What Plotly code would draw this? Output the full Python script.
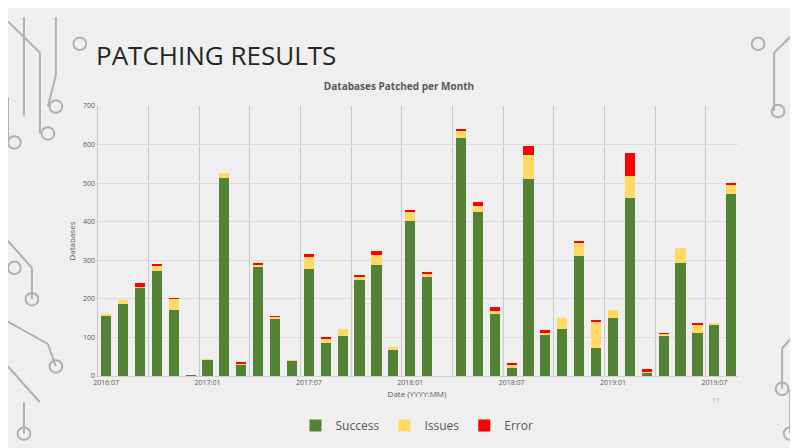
import plotly.graph_objects as go

months = ["2016:07","2016:08","2016:09","2016:10","2016:11","2016:12",
          "2017:01","2017:02","2017:03","2017:04","2017:05","2017:06",
          "2017:07","2017:08","2017:09","2017:10","2017:11","2017:12",
          "2018:01","2018:02","2018:03","2018:04","2018:05","2018:06",
          "2018:07","2018:08","2018:09","2018:10","2018:11","2018:12",
          "2019:01","2019:02","2019:03","2019:04","2019:05","2019:06",
          "2019:07","2019:08"]
success = [157,186,230,271,172,2,42,513,29,284,147,40,277,86,103,250,288,69,
           403,257,0,617,424,160,22,510,107,122,311,73,150,462,9,103,294,111,133,472]
issues = [3,10,2,15,28,0,2,14,3,3,6,1,34,12,20,8,27,5,
          22,9,0,19,17,8,6,64,7,29,35,69,20,57,3,6,37,23,4,24]
errors = [0,0,10,2,1,0,0,0,4,6,2,0,5,4,0,2,9,0,
          6,4,0,5,11,10,7,22,5,0,2,2,0,59,5,2,0,3,0,5]

x = list(range(len(months)))
tickvals = x[::6]
ticktext = months[::6]

fig = go.Figure()
for name, vals, col in [("Success", success, "#548235"),
                        ("Issues", issues, "#FFD966"),
                        ("Error", errors, "#FF0000")]:
    fig.add_trace(go.Bar(x=x, y=vals, name=name, marker_color=col,
                         marker_line_width=0, width=0.6))

W, H, L, R, T, B = 798, 448, 88, 68, 98, 80
PW, PH = W - L - R, H - T - B


def px(fx):
    return (fx * W - L) / PW


def py(fy):
    return (fy * H - B) / PH


grey = "#b0b0b0"
shapes = []
for (x0, y0, x1, y1) in [(0.0, 0.97, 0.04, 0.90), (0.04, 0.90, 0.04, 0.72),
                         (0.02, 0.98, 0.02, 0.76), (0.0, 0.80, 0.0, 0.70),
                         (0.06, 0.98, 0.06, 0.85), (0.06, 0.85, 0.05, 0.78),
                         (0.0, 0.48, 0.03, 0.42), (0.03, 0.42, 0.03, 0.35),
                         (0.0, 0.30, 0.05, 0.25), (0.05, 0.25, 0.06, 0.20),
                         (0.0, 0.20, 0.04, 0.12), (0.02, 0.12, 0.02, 0.05),
                         (1.0, 0.97, 0.96, 0.90), (0.96, 0.90, 0.96, 0.77),
                         (1.0, 0.30, 0.97, 0.24), (0.97, 0.24, 0.97, 0.15),
                         (0.98, 0.15, 0.98, 0.05)]:
    shapes.append(dict(type="line", xref="paper", yref="paper",
                       x0=px(x0), y0=py(y0), x1=px(x1), y1=py(y1),
                       line=dict(color=grey, width=2), layer="below"))
for (cx, cy) in [(0.05, 0.72), (0.06, 0.78), (0.008, 0.70), (0.09, 0.92),
                 (0.03, 0.35), (0.06, 0.20), (0.008, 0.42), (0.02, 0.05),
                 (0.965, 0.77), (0.94, 0.92), (0.97, 0.15), (0.98, 0.05)]:
    shapes.append(dict(type="circle", xref="paper", yref="paper",
                       x0=px(cx - 0.008), x1=px(cx + 0.008),
                       y0=py(cy - 0.014), y1=py(cy + 0.014),
                       line=dict(color=grey, width=2), layer="below"))

fig.update_layout(
    barmode="stack",
    width=W, height=H,
    margin=dict(l=L, r=R, t=T, b=B),
    paper_bgcolor="#efefef",
    plot_bgcolor="rgba(0,0,0,0)",
    font=dict(family="Open Sans", color="#595959", size=8),
    title=dict(text="<b>Databases Patched per Month</b>", x=0.49, xanchor="center",
               y=0.825, yanchor="middle", font=dict(size=10, color="#595959")),
    xaxis=dict(range=[-0.6, 37.4], tickvals=tickvals, ticktext=ticktext,
               showgrid=False, zeroline=False, ticks="",
               showline=True, linecolor="#d0d0d0",
               minor=dict(tick0=2.5, dtick=3, showgrid=True, gridcolor="#c8c8c8",
                          gridwidth=1.2),
               title=dict(text="Date (YYYY:MM)", font=dict(size=8), standoff=4),
               tickfont=dict(size=7)),
    yaxis=dict(range=[0, 700], dtick=100, gridcolor="#dcdcdc", zeroline=False,
               title=dict(text="Databases", font=dict(size=8), standoff=6),
               tickfont=dict(size=7)),
    legend=dict(orientation="h", x=0.5, xanchor="center", y=-0.13, yanchor="top",
                font=dict(size=12, color="#595959"), traceorder="normal"),
    shapes=shapes,
    annotations=[
        dict(text="PATCHING RESULTS", xref="paper", yref="paper", x=px(0.108),
             y=py(0.895), xanchor="left", yanchor="middle", showarrow=False,
             font=dict(family="Open Sans", size=26, color="#262626")),
        dict(text="11", xref="paper", yref="paper", x=px(0.895), y=py(0.11),
             showarrow=False, font=dict(size=7, color="#aaaaaa")),
    ],
)
fig.write_html("out.html")
